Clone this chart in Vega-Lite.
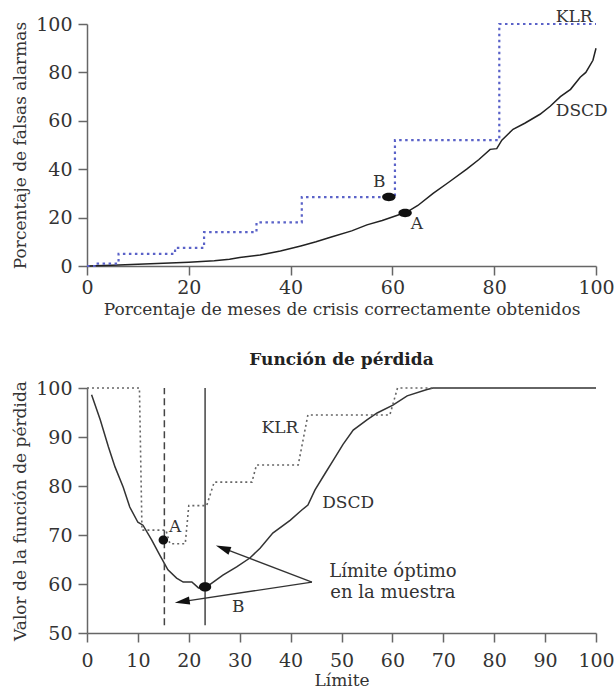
{
  "$schema": "https://vega.github.io/schema/vega-lite/v6.json",
  "padding": {"left": 11, "top": 8, "right": 0, "bottom": 0},
  "spacing": 34,
  "background": "white",
  "config": {
    "font": "DejaVu Serif",
    "view": {"stroke": null},
    "axis": {
      "domainColor": "#666", "tickColor": "#666", "domainWidth": 1.5, "tickWidth": 1.5, "tickSize": 9,
      "labelFont": "DejaVu Serif", "labelFontSize": 19, "labelColor": "#333", "labelPadding": 6,
      "titleFont": "DejaVu Serif", "titleFontSize": 17, "titleFontWeight": "normal", "titleColor": "#333",
      "grid": false, "labelFlush": false, "labelOverlap": false
    },
    "text": {"font": "DejaVu Serif", "fontSize": 17, "color": "#333"}
  },
  "datasets": {
    "top_klr": [
      {"x": 0, "y": 0}, {"x": 1.5, "y": 1}, {"x": 6.2, "y": 5}, {"x": 17.3, "y": 7.5}, {"x": 23, "y": 14},
      {"x": 33.3, "y": 18}, {"x": 42.2, "y": 28.5}, {"x": 60.5, "y": 52}, {"x": 81, "y": 100}, {"x": 100, "y": 100}
    ],
    "top_dscd": [
      {"x": 0, "y": 0}, {"x": 5, "y": 0.3}, {"x": 10, "y": 0.7}, {"x": 15, "y": 1.1}, {"x": 20, "y": 1.6},
      {"x": 25, "y": 2.2}, {"x": 28, "y": 2.8}, {"x": 30, "y": 3.5}, {"x": 34, "y": 4.5}, {"x": 38, "y": 6.2},
      {"x": 42, "y": 8.3}, {"x": 45, "y": 10}, {"x": 48, "y": 12}, {"x": 52, "y": 14.5}, {"x": 55, "y": 17},
      {"x": 58, "y": 18.8}, {"x": 61, "y": 21}, {"x": 63, "y": 22.5}, {"x": 65, "y": 25}, {"x": 68, "y": 30},
      {"x": 71, "y": 34.5}, {"x": 74.6, "y": 40}, {"x": 77, "y": 44}, {"x": 79.2, "y": 48.2}, {"x": 80.5, "y": 48.5},
      {"x": 81.5, "y": 52}, {"x": 83.7, "y": 56.5}, {"x": 86, "y": 59}, {"x": 89, "y": 62.7}, {"x": 91, "y": 66},
      {"x": 93, "y": 70}, {"x": 95, "y": 73}, {"x": 96.9, "y": 78}, {"x": 98, "y": 80}, {"x": 99.4, "y": 85}, {"x": 100, "y": 90}
    ],
    "top_points": [{"x": 59.3, "y": 28.5}, {"x": 62.5, "y": 21.9}],
    "top_labels": [
      {"x": 57.4, "y": 34.6, "t": "B"}, {"x": 64.8, "y": 17.3, "t": "A"},
      {"x": 97.2, "y": 64, "t": "DSCD"}, {"x": 95.7, "y": 102.7, "t": "KLR"}
    ],
    "bot_klr": [
      {"x": 0, "y": 100}, {"x": 10.3, "y": 100}, {"x": 10.8, "y": 71}, {"x": 15.5, "y": 71}, {"x": 16.3, "y": 68.2},
      {"x": 19.3, "y": 68.2}, {"x": 20, "y": 76}, {"x": 23.5, "y": 76}, {"x": 25, "y": 80.8}, {"x": 32.4, "y": 80.8},
      {"x": 33.3, "y": 84.3}, {"x": 41.5, "y": 84.3}, {"x": 43.4, "y": 94.5}, {"x": 59.5, "y": 94.5}, {"x": 61, "y": 100},
      {"x": 100, "y": 100}
    ],
    "bot_dscd": [
      {"x": 0.9, "y": 98.6}, {"x": 2.6, "y": 93.5}, {"x": 4.2, "y": 88}, {"x": 5.5, "y": 83.9}, {"x": 7.1, "y": 79.8},
      {"x": 8.4, "y": 75.7}, {"x": 10, "y": 72.6}, {"x": 11, "y": 72}, {"x": 12.7, "y": 69}, {"x": 14.3, "y": 65.9},
      {"x": 15.9, "y": 62.9}, {"x": 17.6, "y": 61.2}, {"x": 18.9, "y": 60.4}, {"x": 20.6, "y": 60.4}, {"x": 21.9, "y": 59.2},
      {"x": 23.2, "y": 59.2}, {"x": 24.8, "y": 60.4}, {"x": 26.7, "y": 61.8}, {"x": 29.4, "y": 63.5}, {"x": 32, "y": 65.3},
      {"x": 34, "y": 67.3}, {"x": 36.5, "y": 70.4}, {"x": 39.9, "y": 73}, {"x": 42.2, "y": 75.1}, {"x": 43.4, "y": 76.1},
      {"x": 44.8, "y": 79.2}, {"x": 46.8, "y": 82.6}, {"x": 48.4, "y": 85.3}, {"x": 50.3, "y": 88.5}, {"x": 52.3, "y": 91.4},
      {"x": 55, "y": 93.5}, {"x": 57, "y": 94.9}, {"x": 60.1, "y": 96.5}, {"x": 62.9, "y": 98.4}, {"x": 66.8, "y": 99.7},
      {"x": 68, "y": 100}, {"x": 100, "y": 100}
    ],
    "bot_rules": [
      {"x": 15.2, "y": 51.6, "y2": 100, "k": "dashed"},
      {"x": 23.2, "y": 51.6, "y2": 100, "k": "solid"}
    ],
    "bot_points": [{"x": 15, "y": 69, "k": "A"}, {"x": 23.2, "y": 59.4, "k": "B"}],
    "bot_labels": [
      {"x": 17.3, "y": 71.6, "t": "A"}, {"x": 29.7, "y": 55.3, "t": "B"},
      {"x": 37.9, "y": 91.9, "t": "KLR"}, {"x": 51.3, "y": 76.5, "t": "DSCD"}
    ],
    "bot_note": [
      {"x": 60.1, "y": 62.4, "t": "Límite óptimo"}, {"x": 60.1, "y": 58.2, "t": "en la muestra"}
    ],
    "arrows": [
      {"x": 44.2, "y": 60.4, "x2": 26.7, "y2": 67.3, "k": "up"},
      {"x": 44.2, "y": 60.4, "x2": 18.7, "y2": 56.4, "k": "down"}
    ]
  },
  "vconcat": [
    {
      "width": 509,
      "height": 242,
      "layer": [
        {
          "data": {"name": "top_dscd"},
          "mark": {"type": "line", "color": "#222", "strokeWidth": 1.5},
          "encoding": {
            "x": {"field": "x", "type": "quantitative",
                  "scale": {"domain": [0, 100], "nice": false},
                  "axis": {"values": [0, 20, 40, 60, 80, 100], "title": "Porcentaje de meses de crisis correctamente obtenidos", "labelPadding": 3, "titlePadding": 4}},
            "y": {"field": "y", "type": "quantitative",
                  "scale": {"domain": [0, 100], "nice": false},
                  "axis": {"values": [0, 20, 40, 60, 80, 100], "title": "Porcentaje de falsas alarmas", "titlePadding": 6}}
          }
        },
        {
          "data": {"name": "top_klr"},
          "mark": {"type": "line", "interpolate": "step-after", "color": "#5a62c8", "strokeWidth": 2.2, "strokeDash": [2.5, 3.5]},
          "encoding": {
            "x": {"field": "x", "type": "quantitative"},
            "y": {"field": "y", "type": "quantitative"}
          }
        },
        {
          "data": {"name": "top_points"},
          "mark": {"type": "point", "shape": "M-1,0A1,0.62,0,1,1,1,0A1,0.62,0,1,1,-1,0Z", "filled": true, "color": "#111", "size": 180, "opacity": 1},
          "encoding": {
            "x": {"field": "x", "type": "quantitative"},
            "y": {"field": "y", "type": "quantitative"}
          }
        },
        {
          "data": {"name": "top_labels"},
          "mark": {"type": "text", "align": "center", "baseline": "middle"},
          "encoding": {
            "x": {"field": "x", "type": "quantitative"},
            "y": {"field": "y", "type": "quantitative"},
            "text": {"field": "t"}
          }
        }
      ]
    },
    {
      "width": 509,
      "height": 245,
      "title": {"text": "Función de pérdida", "font": "DejaVu Serif", "fontSize": 17, "fontWeight": "bold", "color": "#222", "anchor": "middle", "offset": 10},
      "layer": [
        {
          "data": {"name": "bot_dscd"},
          "mark": {"type": "line", "color": "#333", "strokeWidth": 1.5},
          "encoding": {
            "x": {"field": "x", "type": "quantitative",
                  "scale": {"domain": [0, 100], "nice": false},
                  "axis": {"values": [0, 10, 20, 30, 40, 50, 60, 70, 80, 90, 100], "title": "Límite", "labelPadding": 9, "titlePadding": 2}},
            "y": {"field": "y", "type": "quantitative",
                  "scale": {"domain": [50, 100], "nice": false, "zero": false},
                  "axis": {"values": [50, 60, 70, 80, 90, 100], "title": "Valor de la función de pérdida", "titlePadding": 6}}
          }
        },
        {
          "data": {"name": "bot_klr"},
          "mark": {"type": "line", "color": "#666", "strokeWidth": 1.6, "strokeDash": [2, 3]},
          "encoding": {
            "x": {"field": "x", "type": "quantitative"},
            "y": {"field": "y", "type": "quantitative"}
          }
        },
        {
          "data": {"name": "bot_rules"},
          "transform": [{"filter": "datum.k === 'dashed'"}],
          "mark": {"type": "rule", "color": "#444", "strokeWidth": 1.5, "strokeDash": [7, 4]},
          "encoding": {
            "x": {"field": "x", "type": "quantitative"},
            "y": {"field": "y", "type": "quantitative"},
            "y2": {"field": "y2"}
          }
        },
        {
          "data": {"name": "bot_rules"},
          "transform": [{"filter": "datum.k === 'solid'"}],
          "mark": {"type": "rule", "color": "#444", "strokeWidth": 1.5},
          "encoding": {
            "x": {"field": "x", "type": "quantitative"},
            "y": {"field": "y", "type": "quantitative"},
            "y2": {"field": "y2"}
          }
        },
        {
          "data": {"name": "arrows"},
          "mark": {"type": "rule", "color": "#333", "strokeWidth": 1.3},
          "encoding": {
            "x": {"field": "x", "type": "quantitative"},
            "y": {"field": "y", "type": "quantitative"},
            "x2": {"field": "x2"},
            "y2": {"field": "y2"}
          }
        },
        {
          "data": {"name": "arrows"},
          "transform": [{"filter": "datum.k === 'up'"}],
          "mark": {"type": "point", "shape": "M0,-1L0.55,1L-0.55,1Z", "filled": true, "color": "#111", "size": 225, "opacity": 1, "angle": 290.7},
          "encoding": {
            "x": {"field": "x2", "type": "quantitative"},
            "y": {"field": "y2", "type": "quantitative"}
          }
        },
        {
          "data": {"name": "arrows"},
          "transform": [{"filter": "datum.k === 'down'"}],
          "mark": {"type": "point", "shape": "M0,-1L0.55,1L-0.55,1Z", "filled": true, "color": "#111", "size": 225, "opacity": 1, "angle": 261.4},
          "encoding": {
            "x": {"field": "x2", "type": "quantitative"},
            "y": {"field": "y2", "type": "quantitative"}
          }
        },
        {
          "data": {"name": "bot_points"},
          "transform": [{"filter": "datum.k === 'A'"}],
          "mark": {"type": "point", "shape": "M-1,0A1,0.95,0,1,1,1,0A1,0.95,0,1,1,-1,0Z", "filled": true, "color": "#111", "size": 90, "opacity": 1},
          "encoding": {
            "x": {"field": "x", "type": "quantitative"},
            "y": {"field": "y", "type": "quantitative"}
          }
        },
        {
          "data": {"name": "bot_points"},
          "transform": [{"filter": "datum.k === 'B'"}],
          "mark": {"type": "point", "shape": "M-1,0A1,0.75,0,1,1,1,0A1,0.75,0,1,1,-1,0Z", "filled": true, "color": "#111", "size": 150, "opacity": 1},
          "encoding": {
            "x": {"field": "x", "type": "quantitative"},
            "y": {"field": "y", "type": "quantitative"}
          }
        },
        {
          "data": {"name": "bot_labels"},
          "mark": {"type": "text", "align": "center", "baseline": "middle"},
          "encoding": {
            "x": {"field": "x", "type": "quantitative"},
            "y": {"field": "y", "type": "quantitative"},
            "text": {"field": "t"}
          }
        },
        {
          "data": {"name": "bot_note"},
          "mark": {"type": "text", "align": "center", "baseline": "middle", "fontSize": 18},
          "encoding": {
            "x": {"field": "x", "type": "quantitative"},
            "y": {"field": "y", "type": "quantitative"},
            "text": {"field": "t"}
          }
        }
      ]
    }
  ]
}
